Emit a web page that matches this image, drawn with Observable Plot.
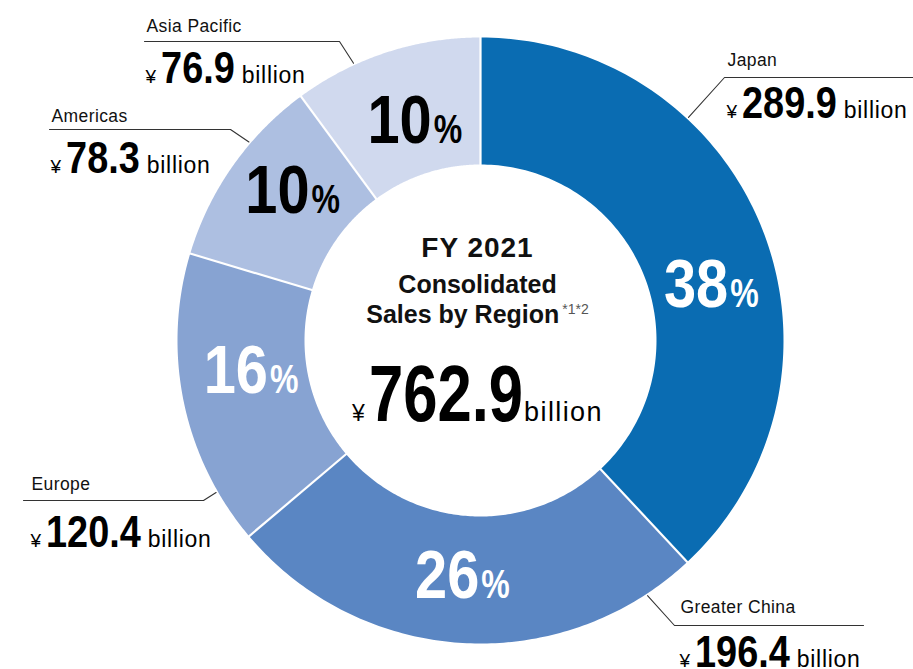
<!DOCTYPE html>
<html><head><meta charset="utf-8">
<script src="https://cdn.jsdelivr.net/npm/d3@7"></script>
<script src="https://cdn.jsdelivr.net/npm/@observablehq/plot@0.6"></script>
<style>
body{margin:0;background:#fff}
svg{display:block}
</style>
</head><body><div id="chart"></div>
<script>
// ---------- data ----------
const regions = ["Japan", "Greater China", "Europe", "Americas", "Asia Pacific"];
const sales = [289.9, 196.4, 120.4, 78.3, 76.9];        // ¥ billion
const shares = [38, 26, 16, 10, 10];                      // %
const totalSales = 762.9;                                 // ¥ billion
const titleLines = ["FY 2021", "Consolidated", "Sales by Region"];
const footnote = "*1*2";
const currency = "¥";
const unit = "billion";

// ---------- layout / style ----------
const colors = ["#0a6cb2", "#5a86c3", "#87a3d2", "#adbfe1", "#d0d9ee"];
const labelInk = ["white", "white", "white", "black", "black"];
const R = 303, r0 = 176;
const labelNudge = [[8, 33], [-4, -3], [5, -18], [8, -11], [9, 8]];
// callout: leader angle (deg), elbow [x,y], line end x, text x, name baseline, value baseline (center-relative px, y down)
const callouts = [
  {angle: 43.0, elbow: [244, -263], endX: 440, tx: 246, nameY: -275, valY: -223},
  {angle: 146.8, elbow: [194, 285], endX: 383, tx: 199, nameY: 272, valY: 326},
  {angle: 240.1, elbow: [-277, 160], endX: -457, tx: -450, nameY: 149, valY: 206},
  {angle: 310.6, elbow: [-250, -211], endX: -431, tx: -430, nameY: -219, valY: -168},
  {angle: 335.4, elbow: [-141, -299], endX: -336, tx: -335, nameY: -309, valY: -258}
];
const BOLD = '"Liberation Sans",Arial,Helvetica,sans-serif';
const SANS = '"Liberation Sans",Arial,Helvetica,sans-serif';

// ---------- geometry from data ----------
const arcs = d3.pie().sort(null).value(d => d)(sales);
const pt = (rad, a) => [rad * Math.sin(a), -rad * Math.cos(a)];

const slicePts = [];
arcs.forEach((a, i) => {
  const n = 120;
  for (let k = 0; k <= n; k++) {
    const t = a.startAngle + (a.endAngle - a.startAngle) * k / n;
    const [x, y] = pt(R, t);
    slicePts.push({region: regions[i], x, y});
  }
  for (let k = n; k >= 0; k--) {
    const t = a.startAngle + (a.endAngle - a.startAngle) * k / n;
    const [x, y] = pt(r0, t);
    slicePts.push({region: regions[i], x, y});
  }
});

const separators = arcs.map(a => {
  const [x1, y1] = pt(r0 - 1, a.startAngle);
  const [x2, y2] = pt(R + 1, a.startAngle);
  return {x1, y1, x2, y2};
});

const pctLabels = arcs.map((a, i) => {
  const mid = (a.startAngle + a.endAngle) / 2;
  const [x, y] = pt((R + r0) / 2, mid);
  return {x: x + labelNudge[i][0], y: y + labelNudge[i][1], text: shares[i] + "%", ink: labelInk[i]};
});

const leaderPts = [];
callouts.forEach((c, i) => {
  const [sx, sy] = pt(R + 2, c.angle * Math.PI / 180);
  leaderPts.push({region: regions[i], x: sx, y: sy});
  leaderPts.push({region: regions[i], x: c.elbow[0], y: c.elbow[1]});
  leaderPts.push({region: regions[i], x: c.endX, y: c.elbow[1]});
});
const nameLabels = callouts.map((c, i) => ({x: c.tx + 1, y: c.nameY, text: regions[i]}));
const valueLabels = callouts.map((c, i) => ({x: c.tx, y: c.valY, text: String(sales[i])}));

const titleY = [-84, -48, -18];
const titleSize = [28, 25, 25];
const titleData = titleLines.map((t, i) => ({x: -3, y: titleY[i], text: t, size: titleSize[i]}));

const chart = Plot.plot({
  width: 913, height: 669, margin: 0,
  x: {domain: [-480, 433], range: [0, 913], axis: null},
  y: {domain: [-340, 329], range: [0, 669], axis: null},
  color: {domain: regions, range: colors},
  style: {background: "white", overflow: "visible"},
  marks: [
    Plot.line(slicePts, {x: "x", y: "y", z: "region", fill: "region", stroke: "none", curve: "linear"}),
    Plot.link(separators, {x1: "x1", y1: "y1", x2: "x2", y2: "y2", stroke: "white", strokeWidth: 2.2}),
    Plot.line(leaderPts, {x: "x", y: "y", z: "region", stroke: "#333", strokeWidth: 1.1}),
    Plot.text(pctLabels, {x: "x", y: "y", text: "text", fill: "ink", fontSize: 68, fontWeight: "bold",
      fontFamily: BOLD, textAnchor: "middle", lineAnchor: "middle", ariaDescription: "share-label"}),
    Plot.text(nameLabels, {x: "x", y: "y", text: "text", fill: "#111", fontSize: 17.5, fontFamily: SANS,
      textAnchor: "start", lineAnchor: "bottom", ariaDescription: "region-name"}),
    Plot.text(valueLabels, {x: "x", y: "y", text: "text", fill: "#000", fontSize: 44, fontWeight: "bold",
      fontFamily: BOLD, textAnchor: "start", lineAnchor: "bottom", ariaDescription: "region-value"}),
    Plot.text(titleData, {x: "x", y: "y", text: "text", fill: "#111", fontSize: "size", fontWeight: "bold",
      fontFamily: SANS, textAnchor: "middle", lineAnchor: "bottom", ariaDescription: "center-title"}),
    Plot.text([{x: -3, y: 80, text: String(totalSales)}], {x: "x", y: "y", text: "text", fill: "#000",
      fontSize: 79, fontWeight: "bold", fontFamily: BOLD, textAnchor: "middle", lineAnchor: "bottom", ariaDescription: "total-value"})
  ]
});
document.getElementById("chart").appendChild(chart);

// ---------- typographic refinements (mixed sizes inside one label) ----------
const NS = "http://www.w3.org/2000/svg";
function span(parent, txt, attrs) {
  const s = document.createElementNS(NS, "tspan");
  for (const k in attrs) s.setAttribute(k, attrs[k]);
  s.textContent = txt;
  parent.appendChild(s);
  return s;
}
function squeeze(s, f) {
  const len = s.getComputedTextLength();
  s.setAttribute("textLength", (len * f).toFixed(1));
  s.setAttribute("lengthAdjust", "spacingAndGlyphs");
}
function textsOf(label) {
  const g = chart.querySelector(`g[aria-description="${label}"]`);
  return g ? Array.from(g.querySelectorAll("text")) : [];
}
textsOf("share-label").forEach(t => {
  const s = t.textContent; t.textContent = "";
  const a = span(t, s.slice(0, -1), {});
  const b = span(t, "%", {"font-size": 40, dx: 2});
  squeeze(a, 0.85); squeeze(b, 0.8);
});
textsOf("region-value").forEach(t => {
  const s = t.textContent; t.textContent = "";
  span(t, currency, {"font-size": 19, "font-weight": "normal", "font-family": SANS});
  const n = span(t, s, {dx: 5});
  span(t, unit, {"font-size": 23, "font-weight": "normal", "font-family": SANS, dx: 7, "letter-spacing": 0.7});
  squeeze(n, 0.86);
});
textsOf("total-value").forEach(t => {
  const s = t.textContent; t.textContent = "";
  span(t, currency, {"font-size": 23, "font-weight": "normal", "font-family": SANS});
  const n = span(t, s, {dx: 4});
  span(t, unit, {"font-size": 27, "font-weight": "normal", "font-family": SANS, dx: 1, "letter-spacing": 1.4});
  squeeze(n, 0.78);
});
textsOf("center-title").forEach(t => {
  if (t.textContent === titleLines[0]) t.setAttribute("letter-spacing", "1");
  if (t.textContent === titleLines[2]) {
    span(t, footnote, {"font-size": 14, "font-weight": "normal", fill: "#555", dy: -9, dx: 3});
  }
});
textsOf("region-name").forEach(t => t.setAttribute("letter-spacing", "0.4"));
</script>
</body></html>
